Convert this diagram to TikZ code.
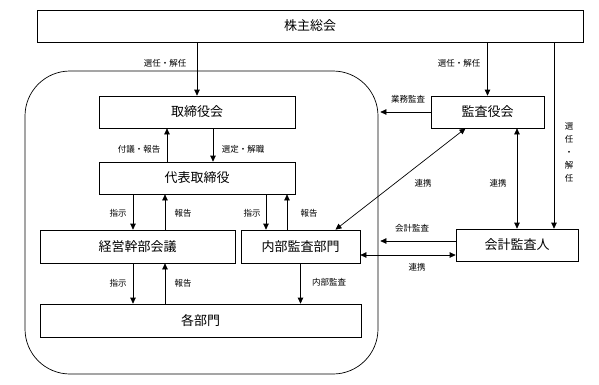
\documentclass[tikz,border=0pt]{standalone}
\usepackage{fontspec}
\setmainfont{Noto Sans CJK JP}
\usetikzlibrary{arrows.meta}
\begin{document}
\begin{tikzpicture}[x=1pt,y=-1pt,
  box/.style={draw,line width=0.7pt,inner sep=0pt,font=\fontsize{13}{13}\selectfont},
  lbl/.style={inner sep=0pt,font=\fontsize{8.5}{9}\selectfont},
  conn/.style={line width=0.7pt,-{Triangle[length=6pt,width=5.5pt]}},
  dconn/.style={line width=0.7pt,{Triangle[length=6pt,width=5.5pt]}-{Triangle[length=6pt,width=5.5pt]}}]
\useasboundingbox (0,0) rectangle (599,384);
% frame
\node[draw,line width=0.7pt,rounded corners=45pt,minimum width=353pt,minimum height=303pt,inner sep=0pt] (frame) at (201.5,222.5) {};
% boxes
\node[box,minimum width=546pt,minimum height=32pt] (sh) at (310,26) {株主総会};
\node[box,minimum width=196pt,minimum height=32pt,fill=white] (tb) at (197,112) {取締役会};
\node[box,minimum width=196pt,minimum height=32pt] (dt) at (197,178) {代表取締役};
\node[box,minimum width=195pt,minimum height=33pt] (kk) at (137.5,246.5) {経営幹部会議};
\node[box,minimum width=119pt,minimum height=33pt] (nb) at (300.5,246.5) {内部監査部門};
\node[box,minimum width=321pt,minimum height=33pt] (kb) at (200.5,320.5) {各部門};
\node[box,minimum width=113pt,minimum height=32pt] (ky) at (487.5,112) {監査役会};
\node[box,minimum width=122pt,minimum height=32pt] (ka) at (517,245) {会計監査人};
\coordinate (kaA) at ([yshift=4pt]ka.west);
\coordinate (kaB) at ([yshift=-10pt]ka.west);
% connectors
\draw[conn] (tb.north |- sh.south) -- (tb.north);
\draw[conn] (ky.north |- sh.south) -- (ky.north);
\draw[conn] ([xshift=37pt]ka.north |- sh.south) -- ([xshift=37pt]ka.north);
\draw[conn] ([xshift=-30pt]dt.north) -- ([xshift=-30pt]tb.south);
\draw[conn] ([xshift=16pt]tb.south) -- ([xshift=16pt]dt.north);
\draw[conn] ([xshift=-64pt]dt.south) -- ([xshift=-64pt]dt.south |- kk.north);
\draw[conn] ([xshift=-32pt]dt.south |- kk.north) -- ([xshift=-32pt]dt.south);
\draw[conn] ([xshift=69pt]dt.south) -- ([xshift=69pt]dt.south |- nb.north);
\draw[conn] ([xshift=90pt]dt.south |- nb.north) -- ([xshift=90pt]dt.south);
\draw[conn] ([xshift=-64pt]dt.south |- kk.south) -- ([xshift=-64pt]dt.south |- kb.north);
\draw[conn] ([xshift=-32pt]dt.south |- kb.north) -- ([xshift=-32pt]dt.south |- kk.south);
\draw[conn] (nb.south) -- (nb.south |- kb.north);
\draw[conn] (ky.west) -- ([xshift=2pt]frame.east |- ky.west);
\draw[dconn] (ka.north |- ky.south) -- (ka.north);
\draw[dconn] ([xshift=-22pt]ky.south) -- ([xshift=35pt]nb.north);
\draw[conn] (kaA) -- ([xshift=2pt]frame.east |- kaA);
\draw[dconn] (nb.east |- kaB) -- (kaB);
% labels
\node[lbl] (l1) at (165,63) {選任・解任};
\node[lbl] (l2) at (459,63) {選任・解任};
\node[lbl,align=center,font=\fontsize{8.5}{13}\selectfont] (l3) at (569,152) {選\\任\\・\\解\\任};
\node[lbl] (l4) at (139,149) {付議・報告};
\node[lbl] (l5) at (243,149) {選定・解職};
\node[lbl] (l6) at (118,213) {指示};
\node[lbl] (l7) at (183,213) {報告};
\node[lbl] (l8) at (252,213) {指示};
\node[lbl] (l9) at (309,213) {報告};
\node[lbl] (l10) at (118,283) {指示};
\node[lbl] (l11) at (183,283) {報告};
\node[lbl] (l12) at (329,282) {内部監査};
\node[lbl] (l13) at (408,99) {業務監査};
\node[lbl] (l14) at (423,183) {連携};
\node[lbl] (l15) at (498,183) {連携};
\node[lbl] (l16) at (412,228) {会計監査};
\node[lbl] (l17) at (417,267) {連携};
\end{tikzpicture}
\end{document}
